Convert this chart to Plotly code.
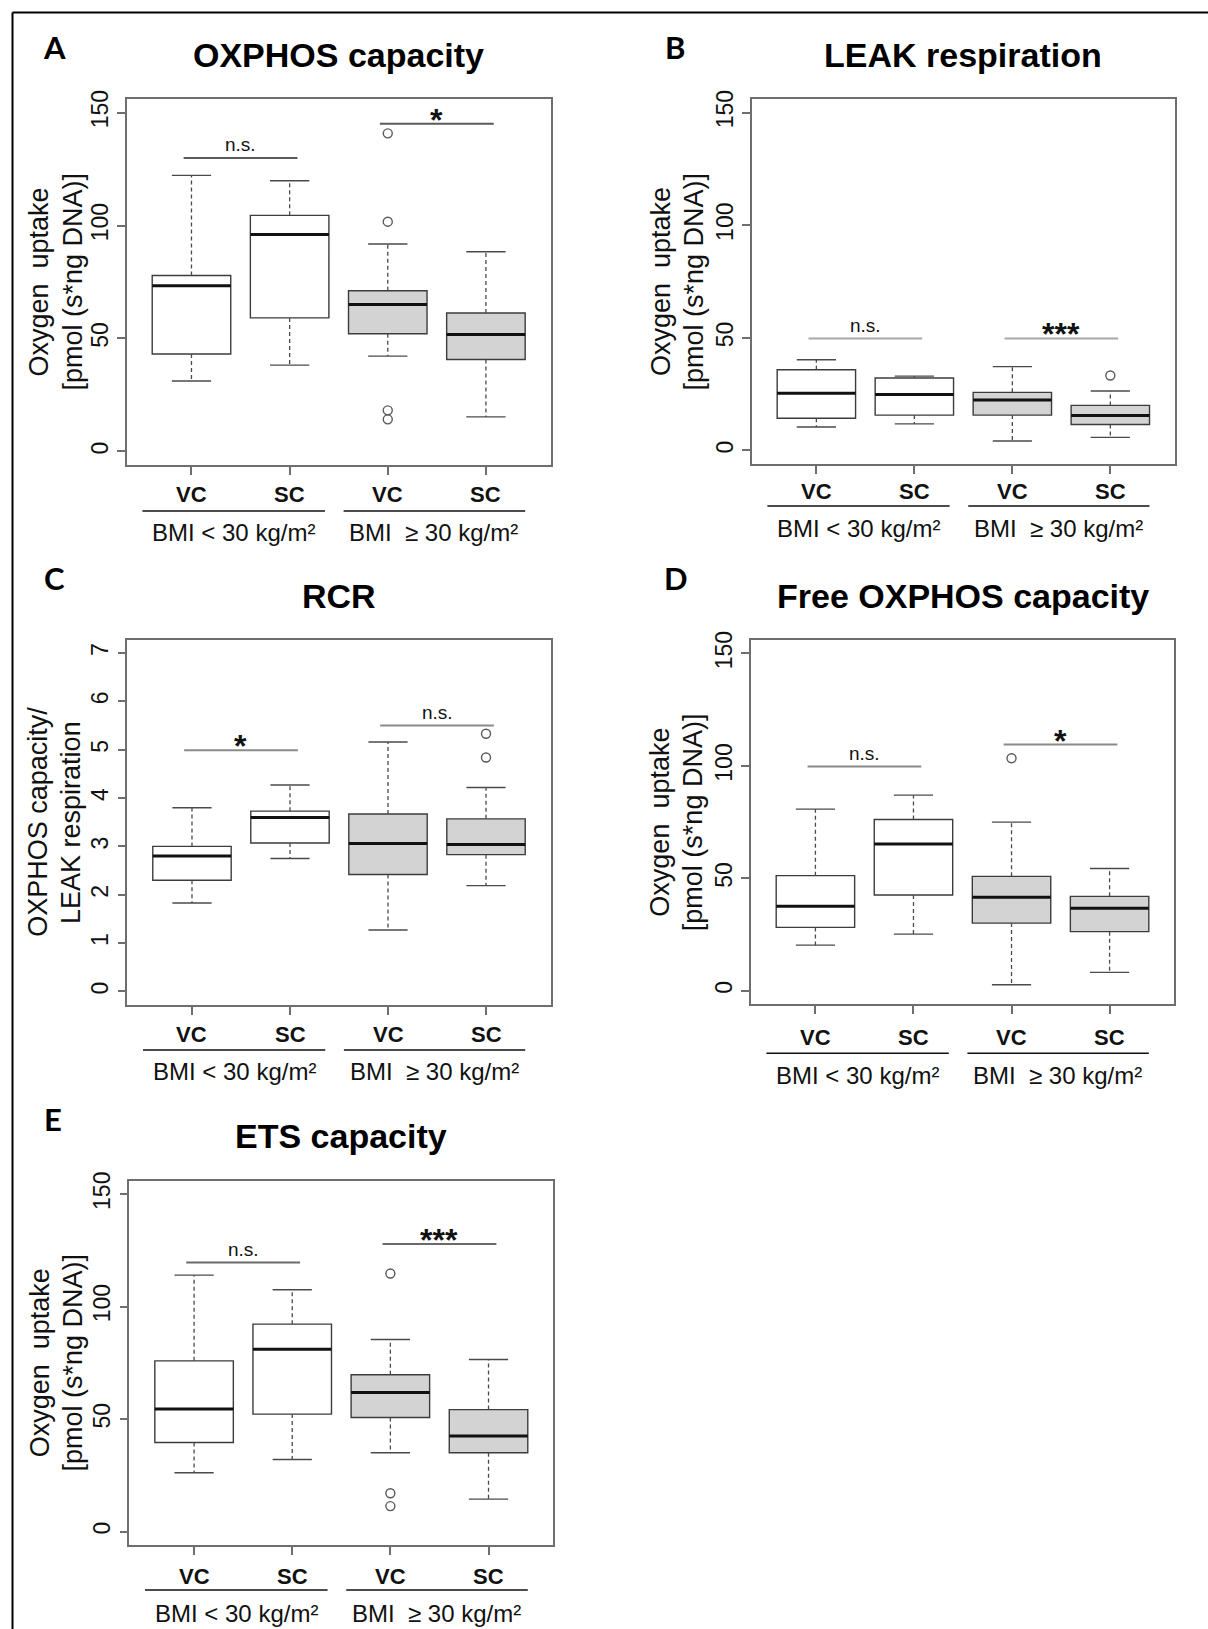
import plotly.graph_objects as go

W, H = 1208, 1629


def fx(px):
    """Horizontal pixel position -> paper fraction."""
    return px / W


def fy(py):
    """Vertical pixel position (from top) -> paper fraction."""
    return 1 - py / H


positions = [1, 2, 3, 4]
site_labels = ["VC", "SC", "VC", "SC"]
bmi_labels = ["BMI < 30 kg/m²", "BMI\u00a0 ≥ 30 kg/m²"]

# ---- A: OXPHOS capacity ----
oxphos_low = [31.2, 38.2, 42.2, 15.3]
oxphos_q1 = [43.1, 59.1, 52.1, 40.7]
oxphos_med = [73.3, 96.0, 65.0, 51.8]
oxphos_q3 = [77.9, 104.5, 71.1, 61.3]
oxphos_high = [122.2, 119.8, 91.8, 88.4]
oxphos_out = [[], [], [140.8, 101.7, 18.2, 14.2], []]
oxphos_sig = [("n.s.", 129.9), ("*", 145.0)]

# ---- B: LEAK respiration ----
leak_low = [10.4, 11.8, 4.2, 5.8]
leak_q1 = [14.3, 15.7, 15.7, 11.5]
leak_med = [25.4, 24.8, 22.4, 15.5]
leak_q3 = [35.8, 32.2, 25.8, 20.0]
leak_high = [40.3, 33.0, 37.2, 26.4]
leak_out = [[], [], [], [33.3]]
leak_sig = [("n.s.", 49.7), ("***", 49.7)]

# ---- C: RCR ----
rcr_low = [1.83, 2.75, 1.27, 2.19]
rcr_q1 = [2.30, 3.07, 2.42, 2.83]
rcr_med = [2.80, 3.60, 3.06, 3.04]
rcr_q3 = [3.00, 3.73, 3.67, 3.57]
rcr_high = [3.80, 4.27, 5.16, 4.22]
rcr_out = [[], [], [], [5.33, 4.84]]
rcr_sig = [("*", 4.99), ("n.s.", 5.50)]

# ---- D: Free OXPHOS capacity ----
free_low = [20.3, 25.2, 2.7, 8.2]
free_q1 = [28.2, 42.6, 30.1, 26.3]
free_med = [37.6, 65.3, 41.6, 36.7]
free_q3 = [51.2, 76.2, 50.9, 42.0]
free_high = [80.8, 87.0, 75.0, 54.4]
free_out = [[], [], [103.4], []]
free_sig = [("n.s.", 99.8), ("*", 109.5)]

# ---- E: ETS capacity ----
ets_low = [26.1, 32.0, 35.0, 14.4]
ets_q1 = [39.6, 52.2, 50.7, 35.0]
ets_med = [54.5, 81.1, 61.8, 42.5]
ets_q3 = [75.9, 92.2, 69.7, 54.2]
ets_high = [114.0, 107.5, 85.4, 76.5]
ets_out = [[], [], [114.7, 17.0, 11.3], []]
ets_sig = [("n.s.", 119.6), ("***", 127.8)]

uptake_title = ["Oxygen  uptake", "[pmol (s*ng DNA)]"]
rcr_title = ["OXPHOS capacity/", "LEAK respiration"]

# frame = plot box in px (left, right, top, bottom);
# below = offsets under the box for site label, group rule and BMI label
panels = [
    dict(letter="A", title="OXPHOS capacity", ytitle=uptake_title,
         low=oxphos_low, q1=oxphos_q1, med=oxphos_med, q3=oxphos_q3, high=oxphos_high,
         out=oxphos_out, sig=oxphos_sig, sigcolor="#5a5a5a",
         yrange=[-6, 156], yticks=[0, 50, 100, 150],
         frame=(126.7, 550.7, 99.0, 465.0), title_y=55.5, letter_xy=(55, 47),
         ylab_x=(38.5, 72.5), below=(29, 46, 67)),
    dict(letter="B", title="LEAK respiration", ytitle=uptake_title,
         low=leak_low, q1=leak_q1, med=leak_med, q3=leak_q3, high=leak_high,
         out=leak_out, sig=leak_sig, sigcolor="#a8a8a8",
         yrange=[-6, 156], yticks=[0, 50, 100, 150],
         frame=(751.7, 1175.0, 99.0, 464.0), title_y=55.5, letter_xy=(675, 47),
         ylab_x=(660.5, 693.0), below=(27, 42, 65)),
    dict(letter="C", title="RCR", ytitle=rcr_title,
         low=rcr_low, q1=rcr_q1, med=rcr_med, q3=rcr_q3, high=rcr_high,
         out=rcr_out, sig=rcr_sig, sigcolor="#8a8a8a",
         yrange=[-0.28, 7.28], yticks=[0, 1, 2, 3, 4, 5, 6, 7],
         frame=(127.3, 550.7, 639.5, 1005.0), title_y=596, letter_xy=(54, 577.5),
         ylab_x=(38.5, 71.7), below=(29, 45, 66.5)),
    dict(letter="D", title="Free OXPHOS capacity", ytitle=uptake_title,
         low=free_low, q1=free_q1, med=free_med, q3=free_q3, high=free_high,
         out=free_out, sig=free_sig, sigcolor="#8a8a8a",
         yrange=[-6, 156], yticks=[0, 50, 100, 150],
         frame=(750.7, 1174.3, 640.0, 1004.3), title_y=596, letter_xy=(676, 577.5),
         ylab_x=(660.5, 693.0), below=(33, 49, 71)),
    dict(letter="E", title="ETS capacity", ytitle=uptake_title,
         low=ets_low, q1=ets_q1, med=ets_med, q3=ets_q3, high=ets_high,
         out=ets_out, sig=ets_sig, sigcolor="#6a6a6a",
         yrange=[-6, 156], yticks=[0, 50, 100, 150],
         frame=(129.3, 553.3, 1180.7, 1545.0), title_y=1136, letter_xy=(53, 1119),
         ylab_x=(39.5, 72.7), below=(31, 45, 68)),
]

FONT = "Liberation Sans, Arial, sans-serif"
FRAME_COLOR = "#6e6e6e"
BOX_LINE = "#3c3c3c"
WHISKER = "#4a4a4a"
FILLS = ["#ffffff", "#d3d3d3"]
BOX_WIDTH = 0.8
CAP_HALF = 0.2
SIG_PAIRS = [(1, 2), (3, 4)]
SIG_PAD = 0.08
UNDER_SPANS = [(0.50, 2.36), (2.55, 4.40)]
UNDER_CENTERS = [1.43, 3.47]

fig = go.Figure()
annotations = []
shapes = []
layout_axes = {}

for k, p in enumerate(panels, start=1):
    xa = "x" if k == 1 else f"x{k}"
    ya = "y" if k == 1 else f"y{k}"
    x0, x1, y0, y1 = p["frame"]
    n = len(positions)

    # boxes: one trace per BMI group so each gets its own fill
    for g, idx in enumerate([(0, 1), (2, 3)]):
        fig.add_trace(go.Box(
            x=[positions[i] for i in idx],
            q1=[p["q1"][i] for i in idx],
            median=[p["med"][i] for i in idx],
            q3=[p["q3"][i] for i in idx],
            lowerfence=[p["q1"][i] for i in idx],
            upperfence=[p["q3"][i] for i in idx],
            width=BOX_WIDTH, whiskerwidth=0, boxpoints=False,
            fillcolor=FILLS[g], line=dict(color=BOX_LINE, width=1.4),
            hoverinfo="skip", showlegend=False, xaxis=xa, yaxis=ya))

    # dashed whiskers
    wx, wy = [], []
    for i in range(n):
        wx += [positions[i], positions[i], None, positions[i], positions[i], None]
        wy += [p["q3"][i], p["high"][i], None, p["q1"][i], p["low"][i], None]
    fig.add_trace(go.Scatter(x=wx, y=wy, mode="lines",
                             line=dict(color=WHISKER, width=1.3, dash="4px,3px"),
                             hoverinfo="skip", showlegend=False, xaxis=xa, yaxis=ya))

    # whisker caps
    cx, cy = [], []
    for i in range(n):
        for v in (p["high"][i], p["low"][i]):
            cx += [positions[i] - CAP_HALF, positions[i] + CAP_HALF, None]
            cy += [v, v, None]
    fig.add_trace(go.Scatter(x=cx, y=cy, mode="lines",
                             line=dict(color=WHISKER, width=1.4),
                             hoverinfo="skip", showlegend=False, xaxis=xa, yaxis=ya))

    # thick medians
    mx, my = [], []
    for i in range(n):
        mx += [positions[i] - BOX_WIDTH / 2, positions[i] + BOX_WIDTH / 2, None]
        my += [p["med"][i], p["med"][i], None]
    fig.add_trace(go.Scatter(x=mx, y=my, mode="lines",
                             line=dict(color="#111111", width=3),
                             hoverinfo="skip", showlegend=False, xaxis=xa, yaxis=ya))

    # outliers
    ox, oy = [], []
    for i in range(n):
        ox += [positions[i]] * len(p["out"][i])
        oy += p["out"][i]
    if ox:
        fig.add_trace(go.Scatter(x=ox, y=oy, mode="markers",
                                 marker=dict(symbol="circle-open", size=9,
                                             color="#5a5a5a", line=dict(width=1.4)),
                                 hoverinfo="skip", showlegend=False, xaxis=xa, yaxis=ya))

    # significance bars
    for (label, level), (a, b) in zip(p["sig"], SIG_PAIRS):
        fig.add_trace(go.Scatter(x=[a - SIG_PAD, b + SIG_PAD], y=[level, level],
                                 mode="lines", line=dict(color=p["sigcolor"], width=2),
                                 hoverinfo="skip", showlegend=False, xaxis=xa, yaxis=ya))
        is_star = label.startswith("*")
        annotations.append(dict(
            x=(a + b) / 2, y=level, xref=xa, yref=ya, text=label, showarrow=False,
            xanchor="center", yanchor="middle", yshift=4 if is_star else 13,
            font=dict(family=FONT, size=32 if is_star else 19, color="#111111",
                      weight="bold" if is_star else "normal")))

    # axes
    layout_axes[("xaxis" if k == 1 else f"xaxis{k}")] = dict(
        domain=[fx(x0), fx(x1)], anchor=ya, range=[0.34, 4.66],
        showline=True, mirror=True, linecolor=FRAME_COLOR, linewidth=1.5,
        ticks="outside", ticklen=8, tickwidth=1.5, tickcolor=FRAME_COLOR,
        tickvals=positions, showticklabels=False, automargin=False,
        showgrid=False, zeroline=False, fixedrange=True)
    layout_axes[("yaxis" if k == 1 else f"yaxis{k}")] = dict(
        domain=[fy(y1), fy(y0)], anchor=xa, range=p["yrange"],
        showline=True, mirror=True, linecolor=FRAME_COLOR, linewidth=1.5,
        ticks="outside", ticklen=8, tickwidth=1.5, tickcolor=FRAME_COLOR,
        tickvals=p["yticks"], tickangle=-90, automargin=False,
        tickfont=dict(family=FONT, size=23, color="#111111"),
        showgrid=False, zeroline=False, fixedrange=True)

    # site labels under the ticks
    site_off, rule_off, bmi_off = p["below"]
    for pos, lab in zip(positions, site_labels):
        annotations.append(dict(x=pos, y=fy(y1 + site_off), xref=xa, yref="paper",
                                text=lab, showarrow=False, xanchor="center", yanchor="middle",
                                font=dict(family=FONT, size=22, color="#111111",
                                          weight="bold")))

    # group rules and BMI labels
    for (ua, ub), c, lab in zip(UNDER_SPANS, UNDER_CENTERS, bmi_labels):
        shapes.append(dict(type="line", xref=xa, yref="paper",
                           x0=ua, x1=ub, y0=fy(y1 + rule_off), y1=fy(y1 + rule_off),
                           line=dict(color="#111111", width=1.6)))
        annotations.append(dict(x=c, y=fy(y1 + bmi_off), xref=xa, yref="paper",
                                text=lab, showarrow=False, xanchor="center", yanchor="middle",
                                font=dict(family=FONT, size=24, color="#111111")))

    # panel title and letter
    annotations.append(dict(x=fx((x0 + x1) / 2), y=fy(p["title_y"]), xref="paper", yref="paper",
                            text=p["title"], showarrow=False, xanchor="center", yanchor="middle",
                            font=dict(family=FONT, size=34, color="#000000", weight="bold")))
    annotations.append(dict(x=fx(p["letter_xy"][0]), y=fy(p["letter_xy"][1]),
                            xref="paper", yref="paper", text=p["letter"], showarrow=False,
                            xanchor="center", yanchor="middle",
                            font=dict(family="Lato, sans-serif", size=31, color="#000000",
                                      weight="bold")))

    # two-line y-axis title
    yc = fy((y0 + y1) / 2)
    for line_x, line_text in zip(p["ylab_x"], p["ytitle"]):
        annotations.append(dict(x=fx(line_x), y=yc, xref="paper", yref="paper",
                                text=line_text, textangle=-90, showarrow=False,
                                xanchor="center", yanchor="middle",
                                font=dict(family=FONT, size=27, color="#111111")))

# outer figure border (top and left edges)
shapes.append(dict(type="line", xref="paper", yref="paper",
                   x0=fx(12.5), x1=1.02, y0=fy(12.5), y1=fy(12.5),
                   line=dict(color="#000000", width=2)))
shapes.append(dict(type="line", xref="paper", yref="paper",
                   x0=fx(12.5), x1=fx(12.5), y0=fy(12.5), y1=-0.02,
                   line=dict(color="#000000", width=2)))

fig.update_layout(
    width=W, height=H, autosize=False,
    margin=dict(l=0, r=0, t=0, b=0, autoexpand=False),
    paper_bgcolor="white", plot_bgcolor="white",
    boxmode="overlay", showlegend=False,
    annotations=annotations, shapes=shapes,
    **layout_axes)

fig.write_html("out.html")
